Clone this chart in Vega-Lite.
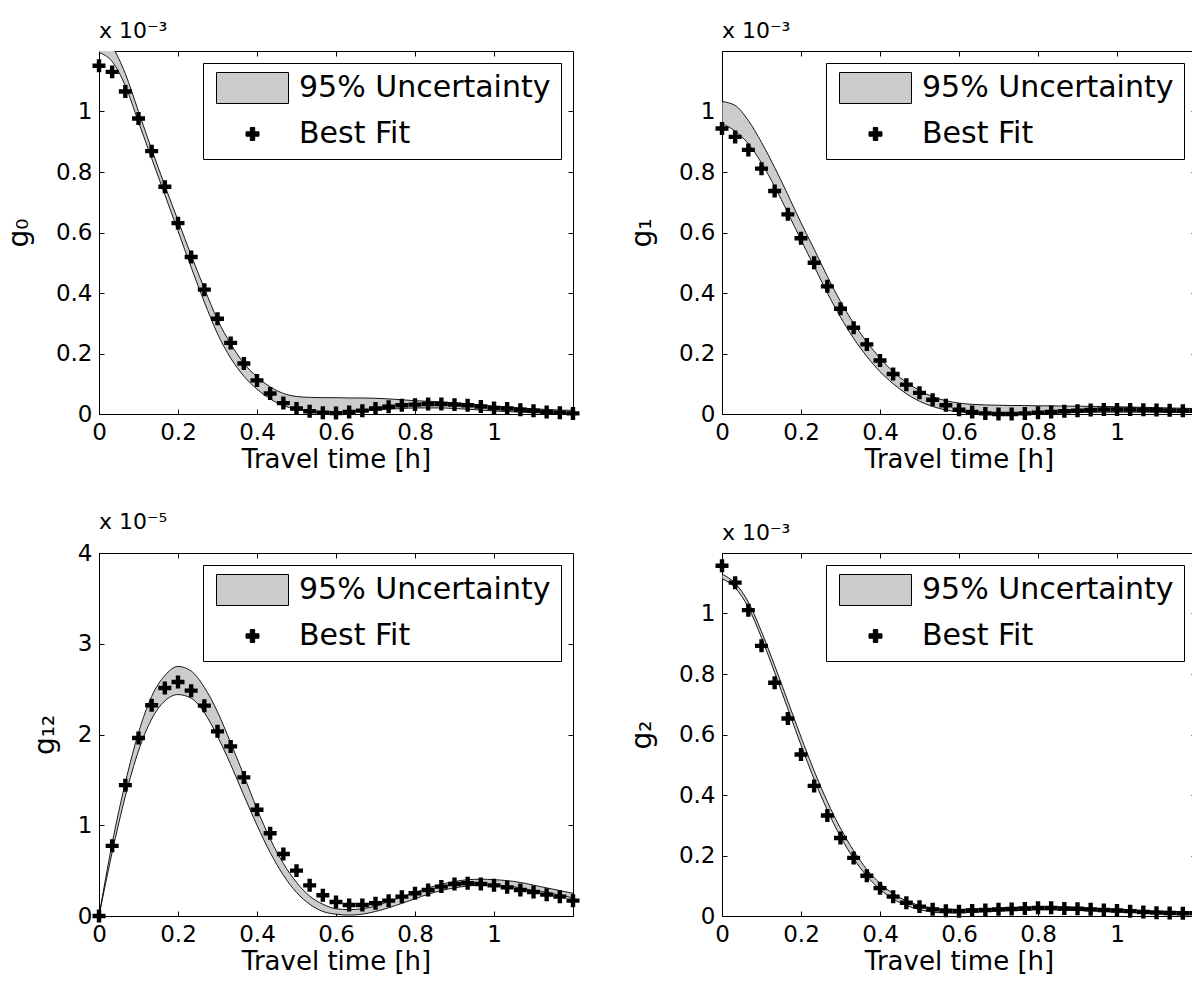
{
  "$schema": "https://vega.github.io/schema/vega-lite/v6.json",
  "background": "white",
  "padding": {"left": 4, "top": 19, "right": 0, "bottom": 0},
  "datasets": {
    "d": [
      {"p":"g0","t":0,"b":1.151,"lo":1.195,"hi":1.26},
      {"p":"g0","t":0.0333,"b":1.131,"lo":1.165,"hi":1.215},
      {"p":"g0","t":0.0667,"b":1.066,"lo":1.085,"hi":1.125},
      {"p":"g0","t":0.1,"b":0.977,"lo":0.965,"hi":1.0},
      {"p":"g0","t":0.1333,"b":0.869,"lo":0.845,"hi":0.875},
      {"p":"g0","t":0.1667,"b":0.751,"lo":0.725,"hi":0.755},
      {"p":"g0","t":0.2,"b":0.631,"lo":0.605,"hi":0.64},
      {"p":"g0","t":0.2333,"b":0.519,"lo":0.485,"hi":0.525},
      {"p":"g0","t":0.2667,"b":0.411,"lo":0.37,"hi":0.415},
      {"p":"g0","t":0.3,"b":0.315,"lo":0.265,"hi":0.312},
      {"p":"g0","t":0.3333,"b":0.235,"lo":0.185,"hi":0.232},
      {"p":"g0","t":0.3667,"b":0.167,"lo":0.125,"hi":0.168},
      {"p":"g0","t":0.4,"b":0.111,"lo":0.082,"hi":0.122},
      {"p":"g0","t":0.4333,"b":0.068,"lo":0.05,"hi":0.09},
      {"p":"g0","t":0.4667,"b":0.036,"lo":0.028,"hi":0.068},
      {"p":"g0","t":0.5,"b":0.018,"lo":0.015,"hi":0.058},
      {"p":"g0","t":0.5333,"b":0.009,"lo":0.009,"hi":0.055},
      {"p":"g0","t":0.5667,"b":0.004,"lo":0.007,"hi":0.054},
      {"p":"g0","t":0.6,"b":0.003,"lo":0.007,"hi":0.054},
      {"p":"g0","t":0.6333,"b":0.007,"lo":0.008,"hi":0.053},
      {"p":"g0","t":0.6667,"b":0.011,"lo":0.01,"hi":0.053},
      {"p":"g0","t":0.7,"b":0.018,"lo":0.013,"hi":0.052},
      {"p":"g0","t":0.7333,"b":0.024,"lo":0.016,"hi":0.05},
      {"p":"g0","t":0.7667,"b":0.029,"lo":0.018,"hi":0.047},
      {"p":"g0","t":0.8,"b":0.031,"lo":0.02,"hi":0.044},
      {"p":"g0","t":0.8333,"b":0.033,"lo":0.02,"hi":0.042},
      {"p":"g0","t":0.8667,"b":0.033,"lo":0.02,"hi":0.04},
      {"p":"g0","t":0.9,"b":0.031,"lo":0.018,"hi":0.037},
      {"p":"g0","t":0.9333,"b":0.029,"lo":0.016,"hi":0.034},
      {"p":"g0","t":0.9667,"b":0.025,"lo":0.013,"hi":0.03},
      {"p":"g0","t":1.0,"b":0.02,"lo":0.01,"hi":0.026},
      {"p":"g0","t":1.0333,"b":0.018,"lo":0.008,"hi":0.023},
      {"p":"g0","t":1.0667,"b":0.014,"lo":0.006,"hi":0.02},
      {"p":"g0","t":1.1,"b":0.011,"lo":0.004,"hi":0.017},
      {"p":"g0","t":1.1333,"b":0.007,"lo":0.003,"hi":0.015},
      {"p":"g0","t":1.1667,"b":0.004,"lo":0.002,"hi":0.013},
      {"p":"g0","t":1.2,"b":0.002,"lo":0.001,"hi":0.012},

      {"p":"g1","t":0,"b":0.944,"lo":0.96,"hi":1.033},
      {"p":"g1","t":0.0333,"b":0.916,"lo":0.935,"hi":1.02},
      {"p":"g1","t":0.0667,"b":0.873,"lo":0.893,"hi":0.97},
      {"p":"g1","t":0.1,"b":0.811,"lo":0.83,"hi":0.898},
      {"p":"g1","t":0.1333,"b":0.737,"lo":0.752,"hi":0.815},
      {"p":"g1","t":0.1667,"b":0.66,"lo":0.665,"hi":0.725},
      {"p":"g1","t":0.2,"b":0.581,"lo":0.575,"hi":0.632},
      {"p":"g1","t":0.2333,"b":0.5,"lo":0.488,"hi":0.545},
      {"p":"g1","t":0.2667,"b":0.422,"lo":0.4,"hi":0.455},
      {"p":"g1","t":0.3,"b":0.348,"lo":0.32,"hi":0.372},
      {"p":"g1","t":0.3333,"b":0.285,"lo":0.25,"hi":0.3},
      {"p":"g1","t":0.3667,"b":0.23,"lo":0.19,"hi":0.238},
      {"p":"g1","t":0.4,"b":0.177,"lo":0.14,"hi":0.185},
      {"p":"g1","t":0.4333,"b":0.132,"lo":0.1,"hi":0.14},
      {"p":"g1","t":0.4667,"b":0.097,"lo":0.067,"hi":0.105},
      {"p":"g1","t":0.5,"b":0.07,"lo":0.042,"hi":0.078},
      {"p":"g1","t":0.5333,"b":0.047,"lo":0.025,"hi":0.057},
      {"p":"g1","t":0.5667,"b":0.029,"lo":0.013,"hi":0.044},
      {"p":"g1","t":0.6,"b":0.014,"lo":0.007,"hi":0.036},
      {"p":"g1","t":0.6333,"b":0.007,"lo":0.003,"hi":0.032},
      {"p":"g1","t":0.6667,"b":0.002,"lo":0.001,"hi":0.03},
      {"p":"g1","t":0.7,"b":0.0,"lo":0.0,"hi":0.029},
      {"p":"g1","t":0.7333,"b":0.0,"lo":0.0,"hi":0.028},
      {"p":"g1","t":0.7667,"b":0.002,"lo":0.001,"hi":0.028},
      {"p":"g1","t":0.8,"b":0.004,"lo":0.002,"hi":0.027},
      {"p":"g1","t":0.8333,"b":0.007,"lo":0.003,"hi":0.027},
      {"p":"g1","t":0.8667,"b":0.009,"lo":0.004,"hi":0.026},
      {"p":"g1","t":0.9,"b":0.011,"lo":0.005,"hi":0.026},
      {"p":"g1","t":0.9333,"b":0.013,"lo":0.006,"hi":0.025},
      {"p":"g1","t":0.9667,"b":0.015,"lo":0.006,"hi":0.025},
      {"p":"g1","t":1.0,"b":0.015,"lo":0.006,"hi":0.024},
      {"p":"g1","t":1.0333,"b":0.015,"lo":0.006,"hi":0.023},
      {"p":"g1","t":1.0667,"b":0.014,"lo":0.006,"hi":0.022},
      {"p":"g1","t":1.1,"b":0.013,"lo":0.006,"hi":0.021},
      {"p":"g1","t":1.1333,"b":0.012,"lo":0.005,"hi":0.02},
      {"p":"g1","t":1.1667,"b":0.011,"lo":0.005,"hi":0.019},
      {"p":"g1","t":1.2,"b":0.011,"lo":0.005,"hi":0.018},

      {"p":"g12","t":0,"b":0.0,"lo":0.0,"hi":0.0},
      {"p":"g12","t":0.0333,"b":0.773,"lo":0.7,"hi":0.8},
      {"p":"g12","t":0.0667,"b":1.442,"lo":1.32,"hi":1.47},
      {"p":"g12","t":0.1,"b":1.961,"lo":1.82,"hi":2.02},
      {"p":"g12","t":0.1333,"b":2.322,"lo":2.17,"hi":2.42},
      {"p":"g12","t":0.1667,"b":2.513,"lo":2.37,"hi":2.65},
      {"p":"g12","t":0.2,"b":2.579,"lo":2.44,"hi":2.75},
      {"p":"g12","t":0.2333,"b":2.483,"lo":2.4,"hi":2.7},
      {"p":"g12","t":0.2667,"b":2.318,"lo":2.24,"hi":2.52},
      {"p":"g12","t":0.3,"b":2.035,"lo":1.98,"hi":2.25},
      {"p":"g12","t":0.3333,"b":1.869,"lo":1.67,"hi":1.91},
      {"p":"g12","t":0.3667,"b":1.527,"lo":1.33,"hi":1.55},
      {"p":"g12","t":0.4,"b":1.17,"lo":1.0,"hi":1.18},
      {"p":"g12","t":0.4333,"b":0.912,"lo":0.7,"hi":0.85},
      {"p":"g12","t":0.4667,"b":0.684,"lo":0.45,"hi":0.58},
      {"p":"g12","t":0.5,"b":0.5,"lo":0.26,"hi":0.37},
      {"p":"g12","t":0.5333,"b":0.338,"lo":0.13,"hi":0.22},
      {"p":"g12","t":0.5667,"b":0.228,"lo":0.05,"hi":0.13},
      {"p":"g12","t":0.6,"b":0.155,"lo":0.02,"hi":0.08},
      {"p":"g12","t":0.6333,"b":0.121,"lo":0.01,"hi":0.07},
      {"p":"g12","t":0.6667,"b":0.121,"lo":0.02,"hi":0.08},
      {"p":"g12","t":0.7,"b":0.14,"lo":0.05,"hi":0.11},
      {"p":"g12","t":0.7333,"b":0.169,"lo":0.09,"hi":0.16},
      {"p":"g12","t":0.7667,"b":0.213,"lo":0.14,"hi":0.21},
      {"p":"g12","t":0.8,"b":0.25,"lo":0.19,"hi":0.26},
      {"p":"g12","t":0.8333,"b":0.287,"lo":0.24,"hi":0.31},
      {"p":"g12","t":0.8667,"b":0.324,"lo":0.28,"hi":0.35},
      {"p":"g12","t":0.9,"b":0.353,"lo":0.31,"hi":0.38},
      {"p":"g12","t":0.9333,"b":0.361,"lo":0.33,"hi":0.4},
      {"p":"g12","t":0.9667,"b":0.353,"lo":0.34,"hi":0.405},
      {"p":"g12","t":1.0,"b":0.338,"lo":0.34,"hi":0.4},
      {"p":"g12","t":1.0333,"b":0.316,"lo":0.33,"hi":0.39},
      {"p":"g12","t":1.0667,"b":0.287,"lo":0.31,"hi":0.37},
      {"p":"g12","t":1.1,"b":0.265,"lo":0.28,"hi":0.34},
      {"p":"g12","t":1.1333,"b":0.235,"lo":0.26,"hi":0.31},
      {"p":"g12","t":1.1667,"b":0.213,"lo":0.23,"hi":0.28},
      {"p":"g12","t":1.2,"b":0.169,"lo":0.2,"hi":0.25},

      {"p":"g2","t":0,"b":1.158,"lo":1.115,"hi":1.13},
      {"p":"g2","t":0.0333,"b":1.102,"lo":1.085,"hi":1.1},
      {"p":"g2","t":0.0667,"b":1.011,"lo":1.02,"hi":1.038},
      {"p":"g2","t":0.1,"b":0.893,"lo":0.92,"hi":0.94},
      {"p":"g2","t":0.1333,"b":0.771,"lo":0.805,"hi":0.828},
      {"p":"g2","t":0.1667,"b":0.653,"lo":0.685,"hi":0.71},
      {"p":"g2","t":0.2,"b":0.534,"lo":0.565,"hi":0.592},
      {"p":"g2","t":0.2333,"b":0.43,"lo":0.452,"hi":0.48},
      {"p":"g2","t":0.2667,"b":0.332,"lo":0.35,"hi":0.378},
      {"p":"g2","t":0.3,"b":0.258,"lo":0.262,"hi":0.29},
      {"p":"g2","t":0.3333,"b":0.192,"lo":0.19,"hi":0.216},
      {"p":"g2","t":0.3667,"b":0.133,"lo":0.132,"hi":0.154},
      {"p":"g2","t":0.4,"b":0.092,"lo":0.088,"hi":0.108},
      {"p":"g2","t":0.4333,"b":0.064,"lo":0.056,"hi":0.074},
      {"p":"g2","t":0.4667,"b":0.044,"lo":0.035,"hi":0.05},
      {"p":"g2","t":0.5,"b":0.031,"lo":0.021,"hi":0.035},
      {"p":"g2","t":0.5333,"b":0.022,"lo":0.013,"hi":0.027},
      {"p":"g2","t":0.5667,"b":0.017,"lo":0.01,"hi":0.023},
      {"p":"g2","t":0.6,"b":0.016,"lo":0.01,"hi":0.022},
      {"p":"g2","t":0.6333,"b":0.018,"lo":0.012,"hi":0.023},
      {"p":"g2","t":0.6667,"b":0.02,"lo":0.014,"hi":0.024},
      {"p":"g2","t":0.7,"b":0.022,"lo":0.016,"hi":0.026},
      {"p":"g2","t":0.7333,"b":0.023,"lo":0.018,"hi":0.028},
      {"p":"g2","t":0.7667,"b":0.025,"lo":0.019,"hi":0.029},
      {"p":"g2","t":0.8,"b":0.027,"lo":0.02,"hi":0.03},
      {"p":"g2","t":0.8333,"b":0.027,"lo":0.02,"hi":0.03},
      {"p":"g2","t":0.8667,"b":0.025,"lo":0.019,"hi":0.029},
      {"p":"g2","t":0.9,"b":0.024,"lo":0.018,"hi":0.028},
      {"p":"g2","t":0.9333,"b":0.022,"lo":0.017,"hi":0.026},
      {"p":"g2","t":0.9667,"b":0.02,"lo":0.015,"hi":0.024},
      {"p":"g2","t":1.0,"b":0.018,"lo":0.013,"hi":0.022},
      {"p":"g2","t":1.0333,"b":0.016,"lo":0.012,"hi":0.02},
      {"p":"g2","t":1.0667,"b":0.013,"lo":0.01,"hi":0.018},
      {"p":"g2","t":1.1,"b":0.011,"lo":0.009,"hi":0.016},
      {"p":"g2","t":1.1333,"b":0.01,"lo":0.008,"hi":0.015},
      {"p":"g2","t":1.1667,"b":0.009,"lo":0.007,"hi":0.014},
      {"p":"g2","t":1.2,"b":0.009,"lo":0.006,"hi":0.013}
    ]
  },
  "data": {"name": "d"},
  "columns": 2,
  "spacing": {"row": 37, "column": 47},
  "resolve": {"scale": {"shape": "independent", "color": "independent"}, "legend": {"shape": "independent", "color": "independent"}},
  "concat": [
    {
      "width": 474, "height": 363,
      "title": {"text": "x 10⁻³"},
      "transform": [{"filter": "datum.p == 'g0'"}],
      "resolve": {"axis": {"x": "independent", "y": "independent"}},
      "layer": [
        {
          "mark": {"type": "area", "fill": "#cccccc", "stroke": "black", "strokeWidth": 0.9, "interpolate": "monotone", "clip": true},
          "encoding": {
            "x": {"field": "t", "type": "quantitative", "scale": {"domain": [0, 1.2], "nice": false, "zero": false},
                  "axis": {"orient": "bottom", "values": [0, 0.2, 0.4, 0.6, 0.8, 1], "title": "Travel time [h]"}},
            "y": {"field": "lo", "type": "quantitative", "scale": {"domain": [0, 1.2], "nice": false},
                  "axis": {"orient": "left", "values": [0, 0.2, 0.4, 0.6, 0.8, 1], "title": "g₀", "titlePadding": 22}},
            "y2": {"field": "hi"}
          }
        },
        {
          "mark": {"type": "point", "filled": true, "opacity": 1, "size": 784},
          "encoding": {
            "x": {"field": "t", "type": "quantitative", "axis": {"orient": "top", "values": [0, 0.2, 0.4, 0.6, 0.8, 1], "labels": false, "title": null, "domain": false}},
            "y": {"field": "b", "type": "quantitative", "axis": {"orient": "right", "values": [0, 0.2, 0.4, 0.6, 0.8, 1], "labels": false, "title": null, "domain": false}},
            "shape": {"datum": "Best Fit", "type": "nominal",
              "scale": {"domain": ["95% Uncertainty", "Best Fit"], "range": ["M-2.571,-1.107H2.571V1.107H-2.571Z", "M-0.464,-0.157H-0.157V-0.464H0.157V-0.157H0.464V0.157H0.157V0.464H-0.157V0.157H-0.464Z"]},
              "legend": {"encode": {"symbols": {"stroke": {"value": "black"}, "strokeWidth": {"value": 1}}}}},
            "color": {"datum": "Best Fit", "type": "nominal",
              "scale": {"domain": ["95% Uncertainty", "Best Fit"], "range": ["#cccccc", "black"]},
              "legend": {"encode": {"symbols": {"stroke": {"value": "black"}, "strokeWidth": {"value": 1}}}}}
          }
        }
      ]
    },
    {
      "width": 474, "height": 363,
      "title": {"text": "x 10⁻³"},
      "transform": [{"filter": "datum.p == 'g1'"}],
      "resolve": {"axis": {"x": "independent", "y": "independent"}},
      "layer": [
        {
          "mark": {"type": "area", "fill": "#cccccc", "stroke": "black", "strokeWidth": 0.9, "interpolate": "monotone", "clip": true},
          "encoding": {
            "x": {"field": "t", "type": "quantitative", "scale": {"domain": [0, 1.2], "nice": false, "zero": false},
                  "axis": {"orient": "bottom", "values": [0, 0.2, 0.4, 0.6, 0.8, 1], "title": "Travel time [h]"}},
            "y": {"field": "lo", "type": "quantitative", "scale": {"domain": [0, 1.2], "nice": false},
                  "axis": {"orient": "left", "values": [0, 0.2, 0.4, 0.6, 0.8, 1], "title": "g₁", "titlePadding": 22}},
            "y2": {"field": "hi"}
          }
        },
        {
          "mark": {"type": "point", "filled": true, "opacity": 1, "size": 784},
          "encoding": {
            "x": {"field": "t", "type": "quantitative", "axis": {"orient": "top", "values": [0, 0.2, 0.4, 0.6, 0.8, 1], "labels": false, "title": null, "domain": false}},
            "y": {"field": "b", "type": "quantitative", "axis": {"orient": "right", "values": [0, 0.2, 0.4, 0.6, 0.8, 1], "labels": false, "title": null, "domain": false}},
            "shape": {"datum": "Best Fit", "type": "nominal",
              "scale": {"domain": ["95% Uncertainty", "Best Fit"], "range": ["M-2.571,-1.107H2.571V1.107H-2.571Z", "M-0.464,-0.157H-0.157V-0.464H0.157V-0.157H0.464V0.157H0.157V0.464H-0.157V0.157H-0.464Z"]},
              "legend": {"encode": {"symbols": {"stroke": {"value": "black"}, "strokeWidth": {"value": 1}}}}},
            "color": {"datum": "Best Fit", "type": "nominal",
              "scale": {"domain": ["95% Uncertainty", "Best Fit"], "range": ["#cccccc", "black"]},
              "legend": {"encode": {"symbols": {"stroke": {"value": "black"}, "strokeWidth": {"value": 1}}}}}
          }
        }
      ]
    },
    {
      "width": 474, "height": 363,
      "title": {"text": "x 10⁻⁵"},
      "transform": [{"filter": "datum.p == 'g12'"}],
      "resolve": {"axis": {"x": "independent", "y": "independent"}},
      "layer": [
        {
          "mark": {"type": "area", "fill": "#cccccc", "stroke": "black", "strokeWidth": 0.9, "interpolate": "monotone", "clip": true},
          "encoding": {
            "x": {"field": "t", "type": "quantitative", "scale": {"domain": [0, 1.2], "nice": false, "zero": false},
                  "axis": {"orient": "bottom", "values": [0, 0.2, 0.4, 0.6, 0.8, 1], "title": "Travel time [h]"}},
            "y": {"field": "lo", "type": "quantitative", "scale": {"domain": [0, 4], "nice": false},
                  "axis": {"orient": "left", "values": [0, 1, 2, 3, 4], "title": "g₁₂", "titlePadding": 18}},
            "y2": {"field": "hi"}
          }
        },
        {
          "mark": {"type": "point", "filled": true, "opacity": 1, "size": 784},
          "encoding": {
            "x": {"field": "t", "type": "quantitative", "axis": {"orient": "top", "values": [0, 0.2, 0.4, 0.6, 0.8, 1], "labels": false, "title": null, "domain": false}},
            "y": {"field": "b", "type": "quantitative", "axis": {"orient": "right", "values": [0, 1, 2, 3, 4], "labels": false, "title": null, "domain": false}},
            "shape": {"datum": "Best Fit", "type": "nominal",
              "scale": {"domain": ["95% Uncertainty", "Best Fit"], "range": ["M-2.571,-1.107H2.571V1.107H-2.571Z", "M-0.464,-0.157H-0.157V-0.464H0.157V-0.157H0.464V0.157H0.157V0.464H-0.157V0.157H-0.464Z"]},
              "legend": {"encode": {"symbols": {"stroke": {"value": "black"}, "strokeWidth": {"value": 1}}}}},
            "color": {"datum": "Best Fit", "type": "nominal",
              "scale": {"domain": ["95% Uncertainty", "Best Fit"], "range": ["#cccccc", "black"]},
              "legend": {"encode": {"symbols": {"stroke": {"value": "black"}, "strokeWidth": {"value": 1}}}}}
          }
        }
      ]
    },
    {
      "width": 474, "height": 363,
      "title": {"text": "x 10⁻³"},
      "transform": [{"filter": "datum.p == 'g2'"}],
      "resolve": {"axis": {"x": "independent", "y": "independent"}},
      "layer": [
        {
          "mark": {"type": "area", "fill": "#cccccc", "stroke": "black", "strokeWidth": 0.9, "interpolate": "monotone", "clip": true},
          "encoding": {
            "x": {"field": "t", "type": "quantitative", "scale": {"domain": [0, 1.2], "nice": false, "zero": false},
                  "axis": {"orient": "bottom", "values": [0, 0.2, 0.4, 0.6, 0.8, 1], "title": "Travel time [h]"}},
            "y": {"field": "lo", "type": "quantitative", "scale": {"domain": [0, 1.2], "nice": false},
                  "axis": {"orient": "left", "values": [0, 0.2, 0.4, 0.6, 0.8, 1], "title": "g₂", "titlePadding": 22}},
            "y2": {"field": "hi"}
          }
        },
        {
          "mark": {"type": "point", "filled": true, "opacity": 1, "size": 784},
          "encoding": {
            "x": {"field": "t", "type": "quantitative", "axis": {"orient": "top", "values": [0, 0.2, 0.4, 0.6, 0.8, 1], "labels": false, "title": null, "domain": false}},
            "y": {"field": "b", "type": "quantitative", "axis": {"orient": "right", "values": [0, 0.2, 0.4, 0.6, 0.8, 1], "labels": false, "title": null, "domain": false}},
            "shape": {"datum": "Best Fit", "type": "nominal",
              "scale": {"domain": ["95% Uncertainty", "Best Fit"], "range": ["M-2.571,-1.107H2.571V1.107H-2.571Z", "M-0.464,-0.157H-0.157V-0.464H0.157V-0.157H0.464V0.157H0.157V0.464H-0.157V0.157H-0.464Z"]},
              "legend": {"encode": {"symbols": {"stroke": {"value": "black"}, "strokeWidth": {"value": 1}}}}},
            "color": {"datum": "Best Fit", "type": "nominal",
              "scale": {"domain": ["95% Uncertainty", "Best Fit"], "range": ["#cccccc", "black"]},
              "legend": {"encode": {"symbols": {"stroke": {"value": "black"}, "strokeWidth": {"value": 1}}}}}
          }
        }
      ]
    }
  ],
  "config": {
    "font": "DejaVu Sans",
    "view": {"stroke": "black", "strokeWidth": 1},
    "title": {"font": "DejaVu Sans", "fontSize": 22, "fontWeight": "normal", "color": "black", "anchor": "start", "frame": "group", "offset": 8},
    "axis": {
      "grid": false, "format": "~g", "labelFont": "DejaVu Sans", "labelFontSize": 23, "labelColor": "black",
      "titleFont": "DejaVu Sans", "titleFontSize": 26, "titleFontWeight": "normal", "titleColor": "black",
      "tickColor": "black", "tickSize": -5, "tickWidth": 1, "domainColor": "black", "domainWidth": 1,
      "labelFlush": false, "labelOverlap": false, "labelPadding": 12
    },
    "axisX": {"titlePadding": 2},
    "axisY": {"titleFontSize": 28},
    "legend": {
      "title": null, "orient": "top-right", "offset": 12, "padding": 10,
      "strokeColor": "black", "fillColor": "white", "cornerRadius": 0,
      "labelFont": "DejaVu Sans", "labelFontSize": 30, "labelColor": "black", "labelLimit": 500,
      "labelOffset": 31.5, "symbolOffset": 24.5, "rowPadding": 13, "symbolSize": 784,
      "symbolStrokeWidth": 1, "symbolStrokeColor": "black", "labelBaseline": "middle"
    }
  }
}
